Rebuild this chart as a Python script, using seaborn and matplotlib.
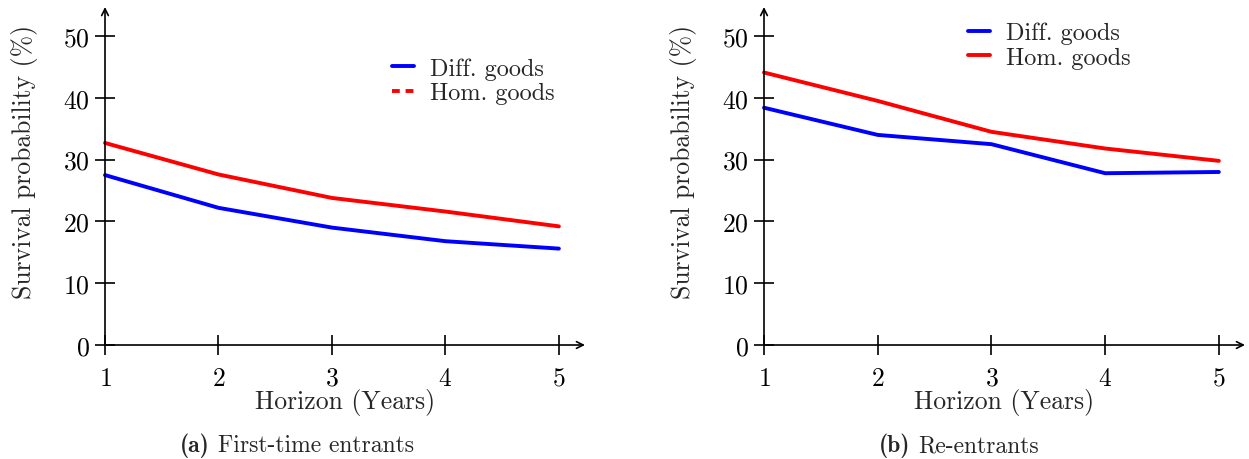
import matplotlib
matplotlib.use("Agg")
import matplotlib.pyplot as plt
import pandas as pd
import seaborn as sns
from matplotlib.lines import Line2D

# ---------------- data ----------------
horizon = [1, 2, 3, 4, 5]
first_diff = [27.5, 22.2, 19.0, 16.8, 15.6]
first_hom = [32.7, 27.6, 23.8, 21.6, 19.2]
re_diff = [38.4, 34.0, 32.5, 27.8, 28.0]
re_hom = [44.1, 39.5, 34.5, 31.8, 29.8]
series_names = ["Diff. goods", "Hom. goods"]
panel_tags = ["(a)", "(b)"]
panel_titles = ["First-time entrants", "Re-entrants"]

sns.set_theme(style="white")
plt.rcParams["font.family"] = ["cmr10", "DejaVu Serif"]
plt.rcParams["mathtext.fontset"] = "cm"
plt.rcParams["axes.formatter.use_mathtext"] = True

FS = 18.5
LEG_FS = 17.5
palette = {"Diff. goods": "#0000ff", "Hom. goods": "#ff0000"}


def long_df(diff, hom):
    return pd.DataFrame({
        "horizon": horizon * 2,
        "value": diff + hom,
        "goods": [series_names[0]] * len(horizon) + [series_names[1]] * len(horizon),
    })


fig = plt.figure(figsize=(12.49, 4.6), dpi=100)
ax_a = fig.add_axes([105 / 1249, 114 / 460, 480 / 1249, 338 / 460])
ax_b = fig.add_axes([764 / 1249, 114 / 460, 481 / 1249, 338 / 460])

panels = [(ax_a, first_diff, first_hom), (ax_b, re_diff, re_hom)]
for ax, diff, hom in panels:
    sns.lineplot(data=long_df(diff, hom), x="horizon", y="value", hue="goods",
                 palette=palette, linewidth=2.8, legend=False, ax=ax, clip_on=False)
    ax.set_xlim(1, 5.23)
    ax.set_ylim(0, 54.7)
    ax.set_xticks(horizon)
    ax.set_yticks([0, 10, 20, 30, 40, 50])
    for s in ax.spines.values():
        s.set_visible(False)
    for end in [(1, 0), (0, 1)]:
        ax.annotate("", xy=end, xycoords="axes fraction", xytext=(0, 0),
                    arrowprops=dict(arrowstyle="->", lw=1.2, color="black",
                                    shrinkA=0, shrinkB=0))
    ax.tick_params(axis="both", direction="inout", length=14, width=1.2,
                   colors="black", labelsize=FS, left=True, bottom=True)
    ax.tick_params(axis="x", pad=8)
    ax.tick_params(axis="y", pad=4)
    ax.set_xlabel("Horizon (Years)", fontsize=FS, labelpad=-1)
    ax.set_ylabel("Survival probability (%)", fontsize=FS)
    ax.yaxis.set_label_coords(-0.14, 0.544)
    ax.patch.set_alpha(0)

# legends
handles_a = [
    Line2D([], [], color=palette["Diff. goods"], lw=2.8),
    Line2D([], [], color=palette["Hom. goods"], lw=2.8, ls=(0, (2, 1.5))),
]
ax_a.legend(handles_a, series_names, loc="upper left", bbox_to_anchor=(0.578, 0.88),
            frameon=False, fontsize=LEG_FS, handlelength=0.9, handletextpad=0.65,
            labelspacing=0.1, borderaxespad=0)
handles_b = [
    Line2D([], [], color=palette["Diff. goods"], lw=2.8),
    Line2D([], [], color=palette["Hom. goods"], lw=2.8),
]
ax_b.legend(handles_b, series_names, loc="upper left", bbox_to_anchor=(0.404, 0.985),
            frameon=False, fontsize=LEG_FS, handlelength=0.9, handletextpad=0.65,
            labelspacing=0.1, borderaxespad=0)

# captions
cap_y = 1 - 446 / 460
for x_split, tag, title in [(210, panel_tags[0], panel_titles[0]),
                            (910, panel_tags[1], panel_titles[1])]:
    fig.text(x_split / 1249, cap_y, tag, ha="right", va="center",
             fontsize=17, family="cmb10")
    fig.text((x_split + 8) / 1249, cap_y, title, ha="left", va="center", fontsize=17)

fig.savefig("out.png", dpi=100)
